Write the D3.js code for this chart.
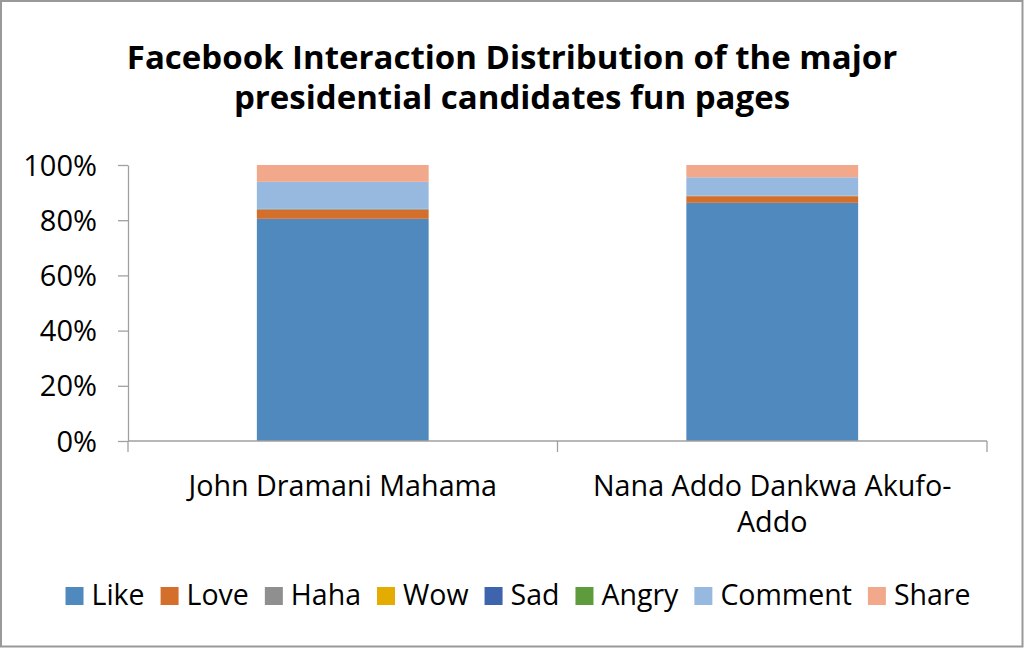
<!DOCTYPE html>
<html>
<head>
<meta charset="utf-8">
<script src="https://cdn.jsdelivr.net/npm/d3@7"></script>
<style>
html,body{margin:0;padding:0;background:#fff;}
svg{display:block;font-family:"Open Sans",Lato,sans-serif;}
</style>
</head>
<body>
<svg id="chart" width="1024" height="648"></svg>
<script>
const categories = ["John Dramani Mahama", "Nana Addo Dankwa Akufo-Addo"];
const categoryLines = [["John Dramani Mahama"], ["Nana Addo Dankwa Akufo-", "Addo"]];
const seriesNames = ["Like", "Love", "Haha", "Wow", "Sad", "Angry", "Comment", "Share"];
const likeVals    = [80.5, 86.3];
const loveVals    = [3.2, 2.4];
const hahaVals    = [0.25, 0.15];
const wowVals     = [0.05, 0.03];
const sadVals     = [0.05, 0.02];
const angryVals   = [0.05, 0.05];
const commentVals = [9.8, 6.6];
const shareVals   = [6.1, 4.45];
const yTicks = [0, 0.2, 0.4, 0.6, 0.8, 1.0];
const titleLines = ["Facebook Interaction Distribution of the major", "presidential candidates fun pages"];
const colors = ["#4F89BD", "#D46F2B", "#8F8F8F", "#E4AB00", "#3E64AE", "#5E9B3C", "#97B9E0", "#F1A88B"];

const seriesVals = [likeVals, loveVals, hahaVals, wowVals, sadVals, angryVals, commentVals, shareVals];
const table = categories.map((c, i) => {
  const row = {category: c};
  seriesNames.forEach((s, j) => row[s] = seriesVals[j][i]);
  return row;
});

(function draw() {
const svg = d3.select("#chart");
const W = 1024, H = 648;
svg.append("rect").attr("x", 1).attr("y", 1).attr("width", W - 2.5).attr("height", H - 2.5)
  .attr("fill", "#fff").attr("stroke", "#999").attr("stroke-width", 2);

const pLeft = 128, pRight = 987, pTop = 165, pBottom = 441;
const x = d3.scaleBand().domain(categories).range([pLeft, pRight]).padding(0);
const y = d3.scaleLinear().domain([0, 1]).range([pBottom, pTop]);

const stack = d3.stack().keys(seriesNames).offset(d3.stackOffsetExpand);
const stacked = stack(table);
const barW = x.bandwidth() * 0.4;

svg.append("g").selectAll("g").data(stacked).join("g")
  .attr("fill", (d, i) => colors[i])
  .selectAll("rect").data(d => d).join("rect")
  .attr("x", d => x(d.data.category) + (x.bandwidth() - barW) / 2)
  .attr("width", barW)
  .attr("y", d => y(d[1]))
  .attr("height", d => y(d[0]) - y(d[1]));

const axisColor = "#A0A0A0";
const yAxis = svg.append("g").attr("transform", `translate(${pLeft},0)`)
  .call(d3.axisLeft(y).tickValues(yTicks).tickFormat(d3.format(".0%")).tickSize(10).tickSizeOuter(0).tickPadding(21));
yAxis.select(".domain").attr("stroke", axisColor).attr("stroke-width", 1.3);
yAxis.selectAll(".tick line").attr("stroke", axisColor).attr("stroke-width", 1.3);
yAxis.selectAll(".tick text").attr("fill", "#000").attr("font-size", 29).attr("font-family", "Open Sans").attr("dy", "0.35em");

const xAxis = svg.append("g").attr("transform", `translate(0,${pBottom})`);
xAxis.append("line").attr("x1", pLeft).attr("x2", pRight).attr("y1", 0).attr("y2", 0)
  .attr("stroke", axisColor).attr("stroke-width", 1.3);
const xTickPos = [pLeft, ...categories.slice(1).map(c => x(c)), pRight];
xAxis.selectAll("line.tk").data(xTickPos).join("line").attr("class", "tk")
  .attr("x1", d => d).attr("x2", d => d).attr("y1", 0).attr("y2", 11)
  .attr("stroke", axisColor).attr("stroke-width", 1.3);

const catLabel = svg.append("g");
categories.forEach((c, i) => {
  const cx = x(c) + x.bandwidth() / 2;
  const t = catLabel.append("text").attr("text-anchor", "middle").attr("font-size", 28.7).attr("fill", "#000");
  categoryLines[i].forEach((line, k) => {
    t.append("tspan").attr("x", cx).attr("y", 496 + k * 36).text(line);
  });
});

const title = svg.append("text").attr("text-anchor", "middle")
  .attr("font-size", 33).attr("font-weight", "bold").attr("fill", "#000");
titleLines.forEach((t, k) => {
  title.append("tspan").attr("x", 512).attr("y", 69 + k * 40).text(t);
});

const lg = svg.append("g");
const items = seriesNames.map((s, i) => {
  const g = lg.append("g");
  g.append("rect").attr("width", 18).attr("height", 18).attr("y", -18).attr("fill", colors[i]);
  const t = g.append("text").attr("x", 26).attr("y", 0).attr("font-size", 28.5).attr("fill", "#000").text(s);
  return {g, w: 26 + t.node().getComputedTextLength()};
});
const gap = 16;
const total = d3.sum(items, d => d.w) + gap * (items.length - 1);
let lx = 518 - total / 2;
items.forEach(it => { it.g.attr("transform", `translate(${lx},605)`); lx += it.w + gap; });
})();
</script>
</body>
</html>
